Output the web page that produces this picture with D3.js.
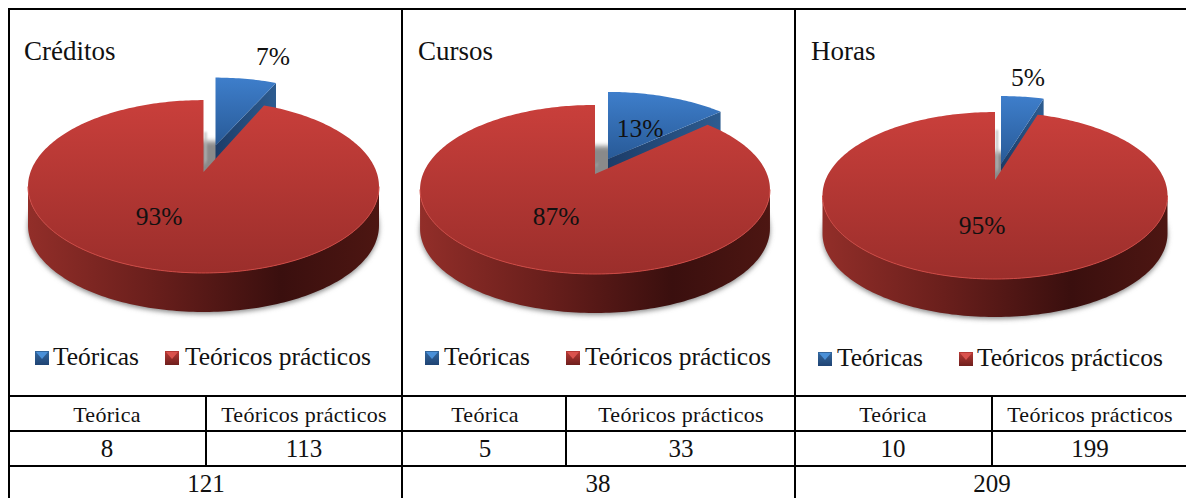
<!DOCTYPE html>
<html>
<head>
<meta charset="utf-8">
<script src="https://cdn.jsdelivr.net/npm/d3@7"></script>
<style>
  html, body { margin: 0; padding: 0; background: #fff; overflow: hidden; }
  text { font-family: "Liberation Serif", serif; fill: #111; }
  .title { font-size: 27px; }
  .pct, .legend { font-size: 25.5px; }
  .head { font-size: 22px; letter-spacing: 0.3px; }
  .value { font-size: 25px; }
  .rule { stroke: #000; stroke-width: 2; shape-rendering: crispEdges; }
</style>
</head>
<body>
<div id="plot"></div>
<script>
const CANVAS_WIDTH  = 1186;
const CANVAS_HEIGHT = 498;

// data
const TITLES      = ["Créditos", "Cursos", "Horas"];
const SERIES      = ["Teóricas", "Teóricos prácticos"];
const COLUMNS     = ["Teórica", "Teóricos prácticos"];
const TEORICA     = [8, 5, 10];
const PRACTICOS   = [113, 33, 199];
const TOTALS      = [121, 38, 209];

// layout of each panel, measured on the picture
const PANELS = [
    {left: 9,   split: 206, right: 402,  titleX: 24,  cx: 203.5, cy: 172, R: 173, s: 84,   k: 0.168, h: 39,
     ex: 12, ey: -22.5, apexLift: 4, notchH: 40, smallLabel: [273, 65],  bigLabel: [159, 225],
     legend: [35, 53, 165, 185], colX: [107, 304], valueX: 206, legendY: 365},
    {left: 402, split: 566, right: 795,  titleX: 418, cx: 595, cy: 174, R: 172, s: 81.7, k: 0.183, h: 39,
     ex: 13, ey: -13, apexLift: 2, notchH: 10, smallLabel: [640, 137], bigLabel: [556, 225],
     legend: [425, 444, 566, 585], colX: [485, 681], valueX: 598, legendY: 365},
    {left: 795, split: 992, right: 1186, titleX: 811, cx: 995, cy: 180, R: 169.5, s: 80.6, k: 0.186, h: 38,
     ex: 6, ey: -16, apexLift: 0, notchH: 50, smallLabel: [1028, 86], bigLabel: [982, 234],
     legend: [818, 837, 959, 977], colX: [893, 1090], valueX: 992, legendY: 366}
];

const TOP_Y   = 9;
const HEAD_Y  = 396;
const ROW1_Y  = 431;
const ROW2_Y  = 466;

const pct  = d3.format(".0%");
const pie  = d3.pie().sort(null).value(d => d);
const line = d3.line();

var svg = d3.select("#plot")
            .append("svg")
            .attr("width", CANVAS_WIDTH)
            .attr("height", CANVAS_HEIGHT)
            .style("display", "block");

var defs = svg.append("defs");

function gradient(id, x2, y2, stops) {
    var g = defs.append("linearGradient")
                .attr("id", id)
                .attr("x1", 0).attr("y1", 0)
                .attr("x2", x2).attr("y2", y2);
    stops.forEach(s => g.append("stop").attr("offset", s[0]).attr("stop-color", s[1]));
}

gradient("redTop",   0, 1, [[0, "#c93f3b"], [1, "#9b2e2b"]]);
gradient("blueTop",  0, 1, [[0, "#3e7ecb"], [1, "#285a97"]]);
gradient("redWall",  1, 0, [[0, "#922e29"], [0.35, "#6a1f1c"], [0.72, "#3a0f0e"], [1, "#4d1612"]]);
gradient("blueWall", 1, 0, [[0, "#1c3c68"], [1, "#2d5c90"]]);
gradient("redKey",   0, 1, [[0, "#b83a36"], [1, "#6f1f1d"]]);
gradient("blueKey",  0, 1, [[0, "#34689f"], [1, "#1f4474"]]);

defs.append("filter").attr("id", "soft")
    .attr("x", "-10%").attr("y", "-10%").attr("width", "120%").attr("height", "120%")
    .append("feGaussianBlur").attr("stdDeviation", 2.5);
defs.append("filter").attr("id", "softer")
    .attr("x", "-200%").attr("y", "-20%").attr("width", "500%").attr("height", "140%")
    .append("feGaussianBlur").attr("stdDeviation", 0.8);

// angle on the disc (clockwise from 12 o'clock) to page position, with perspective
function project(p, a, dx, dy) {
    var u = Math.sin(a), v = Math.cos(a), w = 1 + p.k * v;
    return [p.cx + (dx || 0) + p.R * u / w, p.cy + (dy || 0) - p.s * v / w];
}

function arcPoints(p, a0, a1, dx, dy) {
    var n = Math.max(2, Math.ceil(Math.abs(a1 - a0) / 0.02));
    return d3.range(n + 1).map(i => project(p, a0 + (a1 - a0) * i / n, dx, dy));
}

function drawPie(g, p, values) {
    var arcs = pie(values);
    var blue = arcs[0], red = arcs[1];
    var apex = [p.cx, p.cy];
    var side = Math.acos(-p.k);

    // front wall of the disc, from the left extreme round to the right one
    var front = arcPoints(p, 2 * Math.PI - side, side);
    var wall = front.concat(front.map(d => [d[0], d[1] + p.h]).reverse());

    // soft shadow under the disc
    g.append("path")
     .attr("d", line(arcPoints(p, 0, 2 * Math.PI, 0, p.h + 1)) + "Z")
     .attr("transform", "translate(0,1)")
     .attr("fill", "#8a8a8a")
     .attr("filter", "url(#soft)");

    // exploded slice
    var a2 = [apex[0] + p.ex, apex[1] + p.ey - p.apexLift];
    var rimEnd = project(p, blue.endAngle, p.ex, p.ey);
    var cut = [a2, rimEnd, [rimEnd[0], rimEnd[1] + p.h], [a2[0], a2[1] + p.h]];
    g.append("path").attr("d", line(cut) + "Z").attr("fill", "url(#blueWall)");
    var bluePts = [a2].concat(arcPoints(p, blue.startAngle, blue.endAngle, p.ex, p.ey));
    g.append("path").attr("d", line(bluePts) + "Z").attr("fill", "url(#blueTop)");

    // faint shadow in the notch
    var notch = [[apex[0] + 1, apex[1] - 6], [apex[0] + 1, apex[1] - p.notchH], [apex[0] + 3, apex[1] - p.notchH], [apex[0] + 3, apex[1] - 12]];
    g.append("path").attr("d", line(notch) + "Z").attr("fill", "#b8b8b8").attr("filter", "url(#softer)");

    // big slice
    g.append("path").attr("d", line(wall) + "Z").attr("fill", "url(#redWall)");
    var redPts = [apex].concat(arcPoints(p, red.startAngle, red.endAngle));
    g.append("path").attr("d", line(redPts) + "Z").attr("fill", "url(#redTop)");
    g.append("path")
     .attr("d", line(front))
     .attr("fill", "none")
     .attr("stroke", "#cf4a45")
     .attr("stroke-width", 1);
}

function drawKey(g, x, y, fill, light) {
    const size = 14;
    g.append("rect").attr("x", x).attr("y", y).attr("width", size).attr("height", size).attr("fill", fill);
    var tip = [[x + 1, y + 1], [x + size - 1, y + 1], [x + size / 2, y + size / 2 + 1]];
    g.append("path").attr("d", line(tip) + "Z").attr("fill", light);
}

function hRule(y, x0, x1) {
    svg.append("line").attr("class", "rule").attr("x1", x0).attr("x2", x1).attr("y1", y).attr("y2", y);
}

function vRule(x, y0, y1) {
    svg.append("line").attr("class", "rule").attr("x1", x).attr("x2", x).attr("y1", y0).attr("y2", y1);
}

PANELS.forEach(function(p, i) {
    var g = svg.append("g");
    var values = [TEORICA[i], PRACTICOS[i]];
    var total = d3.sum(values);

    drawPie(g, p, values);

    g.append("text").attr("class", "title").attr("x", p.titleX).attr("y", 60).text(TITLES[i]);

    g.append("text").attr("class", "pct").attr("text-anchor", "middle")
     .attr("x", p.smallLabel[0]).attr("y", p.smallLabel[1])
     .text(pct(values[0] / total));
    g.append("text").attr("class", "pct").attr("text-anchor", "middle")
     .attr("x", p.bigLabel[0]).attr("y", p.bigLabel[1])
     .text(pct(values[1] / total));

    // legend
    drawKey(g, p.legend[0], p.legendY - 14, "url(#blueKey)", "#4a90d8");
    g.append("text").attr("class", "legend").attr("x", p.legend[1]).attr("y", p.legendY).text(SERIES[0]);
    drawKey(g, p.legend[2], p.legendY - 14, "url(#redKey)", "#d9524d");
    g.append("text").attr("class", "legend").attr("x", p.legend[3]).attr("y", p.legendY).text(SERIES[1]);

    // table under the chart
    COLUMNS.forEach(function(c, j) {
        g.append("text").attr("class", "head").attr("text-anchor", "middle")
         .attr("x", p.colX[j]).attr("y", 422).text(c);
        g.append("text").attr("class", "value").attr("text-anchor", "middle")
         .attr("x", p.colX[j]).attr("y", 457).text(values[j]);
    });
    g.append("text").attr("class", "value").attr("text-anchor", "middle")
     .attr("x", p.valueX).attr("y", 492).text(TOTALS[i]);

    vRule(p.left, TOP_Y, CANVAS_HEIGHT);
    vRule(p.split, HEAD_Y, ROW2_Y);
});

hRule(TOP_Y, 8, CANVAS_WIDTH);
hRule(HEAD_Y, 8, CANVAS_WIDTH);
hRule(ROW1_Y, 8, CANVAS_WIDTH);
hRule(ROW2_Y, 8, CANVAS_WIDTH);
</script>
</body>
</html>
